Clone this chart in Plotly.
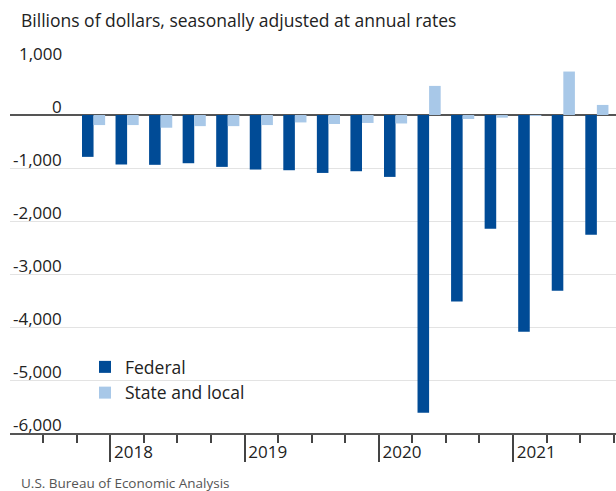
import plotly.graph_objects as go

quarters = ["2017Q4",
            "2018Q1", "2018Q2", "2018Q3", "2018Q4",
            "2019Q1", "2019Q2", "2019Q3", "2019Q4",
            "2020Q1", "2020Q2", "2020Q3", "2020Q4",
            "2021Q1", "2021Q2", "2021Q3"]
federal = [-790, -934, -940, -910, -979, -1029, -1042, -1093, -1061,
           -1168, -5619, -3517, -2146, -4091, -3314, -2260]
state_local = [-190, -190, -240, -210, -210, -190, -140, -170, -150,
               -160, 549, -76, -50, -10, 820, 190]
year_labels = ["2018", "2019", "2020", "2021"]
year_start_index = [1, 5, 9, 13]
y_ticks = [1000, 0, -1000, -2000, -3000, -4000, -5000, -6000]
y_tick_text = ["1,000", "0", "-1,000", "-2,000", "-3,000", "-4,000", "-5,000", "-6,000"]

FONT = "Open Sans"
DARK = "rgb(0,75,150)"
LIGHT = "rgb(168,200,232)"

# plot area in pixels
L, R, T, B = 10, 616, 62, 433
PW, PH = R - L, B - T

def px_x(p):
    return (p - L) / PW

def px_y(p):
    return (B - p) / PH

x = list(range(len(quarters)))

fig = go.Figure()
fig.add_trace(go.Bar(x=x, y=federal, name="Federal", marker=dict(color=DARK, line_width=0),
                     customdata=quarters, hovertemplate="%{customdata}: %{y}<extra>Federal</extra>"))
fig.add_trace(go.Bar(x=x, y=state_local, name="State and local", marker=dict(color=LIGHT, line_width=0),
                     customdata=quarters, hovertemplate="%{customdata}: %{y}<extra>State and local</extra>"))

fig.update_layout(
    width=616, height=491,
    margin=dict(l=L, r=616 - R, t=T, b=491 - B),
    paper_bgcolor="white", plot_bgcolor="white",
    barmode="group", bargap=0.31, bargroupgap=0,
    font=dict(family=FONT, size=17, color="#222"),
    showlegend=True,
    legend=dict(x=px_x(85), xanchor="left", y=px_y(349), yanchor="top",
                bgcolor="rgba(0,0,0,0)", font=dict(size=17.5, color="#222"),
                traceorder="normal", borderwidth=0, tracegroupgap=0),
)

fig.update_xaxes(
    range=[-2.49, 15.57],
    showgrid=False, zeroline=False,
    showline=True, linecolor="#555", linewidth=2,
    tickmode="array",
    tickvals=[i - 0.5 for i in year_start_index],
    ticktext=year_labels,
    ticks="outside", ticklen=27, tickwidth=1.5, tickcolor="#444",
    ticklabelposition="outside right",
    ticklabelstandoff=3, ticklabelshift=2,
    tickfont=dict(size=17, color="#222"),
    minor=dict(tickmode="linear", tick0=-0.5, dtick=1, ticks="outside",
               ticklen=8, tickwidth=1.5, tickcolor="#444"),
)
fig.update_yaxes(
    range=[-6000, 1000],
    tickmode="array", tickvals=y_ticks,
    showticklabels=False,
    showgrid=True, gridcolor="#e3e3e3", gridwidth=1,
    zeroline=True, zerolinecolor="#555", zerolinewidth=1.5,
)

annotations = []
for v, t in zip(y_ticks, y_tick_text):
    annotations.append(dict(x=px_x(64), xref="paper", y=v, yref="y", text=t, showarrow=False,
                            xanchor="right", yanchor="middle", yshift=9,
                            font=dict(size=17, color="#222")))

annotations.append(dict(x=px_x(19), xref="paper", y=px_y(20), yref="paper",
                        text="Billions of dollars, seasonally adjusted at annual rates",
                        showarrow=False, xanchor="left", yanchor="middle",
                        font=dict(size=17.5, color="#222")))
annotations.append(dict(x=px_x(19), xref="paper", y=px_y(483), yref="paper",
                        text="U.S. Bureau of Economic Analysis",
                        showarrow=False, xanchor="left", yanchor="middle",
                        font=dict(size=13.5, color="#555")))
fig.update_layout(annotations=annotations)

fig.write_html("out.html")
